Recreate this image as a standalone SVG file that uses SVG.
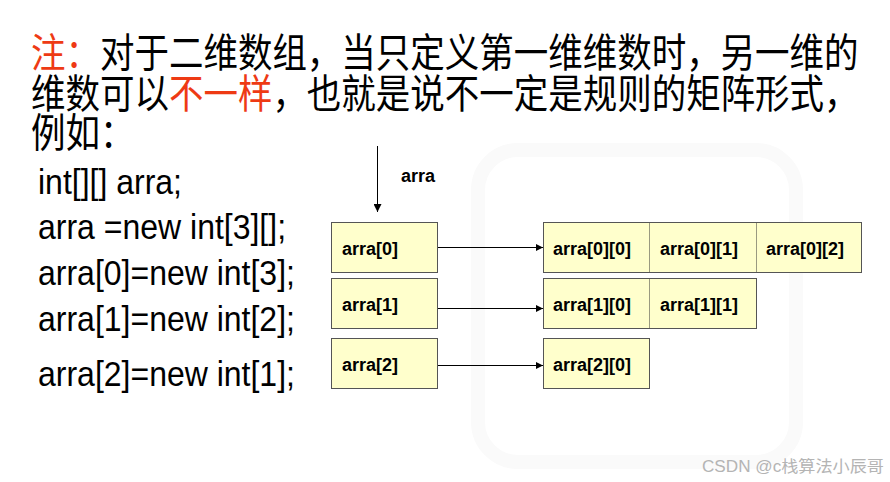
<svg xmlns="http://www.w3.org/2000/svg" width="890" height="482" viewBox="0 0 890 482">
  <defs>
    <marker id="ah" viewBox="0 0 10 10" refX="10" refY="5" markerWidth="7" markerHeight="7" markerUnits="userSpaceOnUse" orient="auto">
      <path d="M0,0 L10,5 L0,10 z" fill="#000"/>
    </marker>
    <marker id="ahv" viewBox="0 0 10 10" refX="10" refY="5" markerWidth="8" markerHeight="8" markerUnits="userSpaceOnUse" orient="auto">
      <path d="M0,0 L10,5 L0,10 z" fill="#000"/>
    </marker>
  </defs>
  <style>
    .title { font-family: "Noto Sans CJK SC", "Liberation Sans", sans-serif; font-size: 34.5px; fill: #000; }
    .red { fill: #EE3A14; }
    .code { font-family: "Liberation Sans", Arial, sans-serif; font-size: 32px; fill: #000; }
    .box { fill: #FFFFCC; stroke: #555; stroke-width: 1; }
    .div { stroke: #9a9a80; stroke-width: 1; }
    .lbl { font-family: "Liberation Sans", Arial, sans-serif; font-size: 18px; font-weight: bold; fill: #000; }
    .conn { stroke: #000; stroke-width: 1; fill: none; }
    .wm { font-family: "Liberation Sans", "Noto Sans CJK SC", sans-serif; font-size: 16px; fill: #b4b4b4; }
  </style>
  <rect width="890" height="482" fill="#fff"/>
  <!-- faint background watermark -->
  <g id="watermark-logo" fill="none" stroke="#fafafa" stroke-width="14">
    <rect x="478" y="150" width="318" height="312" rx="40"/>
  </g>

  <g id="title">
    <text class="title" transform="translate(31,67) scale(1,1.15)"><tspan class="red">注：</tspan>对于二维数组，当只定义第一维维数时，另一维的</text>
    <text class="title" transform="translate(31,108) scale(1,1.15)">维数可以<tspan class="red">不一样</tspan>，也就是说不一定是规则的矩阵形式，</text>
    <text class="title" transform="translate(31,147) scale(1,1.15)">例如：</text>
  </g>

  <g id="code">
    <text class="code" transform="translate(38,194) scale(1,1.1)">int[][] arra;</text>
    <text class="code" transform="translate(38,239) scale(1,1.1)">arra =new int[3][];</text>
    <text class="code" transform="translate(38,285) scale(1,1.1)">arra[0]=new int[3];</text>
    <text class="code" transform="translate(38,331) scale(1,1.1)">arra[1]=new int[2];</text>
    <text class="code" transform="translate(38,386) scale(1,1.1)">arra[2]=new int[1];</text>
  </g>

  <g id="arra-label">
    <text class="lbl" x="401" y="182">arra</text>
  </g>

  <g id="arra0">
    <rect class="box" x="331.5" y="222.5" width="106" height="50"/>
    <text class="lbl" x="342" y="255">arra[0]</text>
  </g>
  <g id="arra1">
    <rect class="box" x="331.5" y="278.5" width="106" height="50"/>
    <text class="lbl" x="342" y="311">arra[1]</text>
  </g>
  <g id="arra2">
    <rect class="box" x="331.5" y="338.5" width="106" height="50"/>
    <text class="lbl" x="342" y="371">arra[2]</text>
  </g>

  <g id="row0">
    <rect class="box" x="543.5" y="222.5" width="318" height="50"/>
    <line class="div" x1="649.5" y1="223" x2="649.5" y2="272"/>
    <line class="div" x1="756.5" y1="223" x2="756.5" y2="272"/>
    <text class="lbl" x="553" y="255">arra[0][0]</text>
    <text class="lbl" x="660" y="255">arra[0][1]</text>
    <text class="lbl" x="766" y="255">arra[0][2]</text>
  </g>
  <g id="row1">
    <rect class="box" x="543.5" y="278.5" width="213" height="50"/>
    <line class="div" x1="649.5" y1="279" x2="649.5" y2="328"/>
    <text class="lbl" x="553" y="311">arra[1][0]</text>
    <text class="lbl" x="660" y="311">arra[1][1]</text>
  </g>
  <g id="row2">
    <rect class="box" x="543.5" y="338.5" width="106" height="50"/>
    <text class="lbl" x="553" y="371">arra[2][0]</text>
  </g>

  <g id="connectors">
    <line class="conn" x1="377.5" y1="146" x2="377.5" y2="212" marker-end="url(#ahv)"/>
    <line class="conn" x1="438" y1="247.5" x2="543" y2="247.5" marker-end="url(#ah)"/>
    <line class="conn" x1="438" y1="308.5" x2="543" y2="308.5" marker-end="url(#ah)"/>
    <line class="conn" x1="438" y1="365.5" x2="543" y2="365.5" marker-end="url(#ah)"/>
  </g>

  <g id="credit">
    <text class="wm" x="702" y="472" textLength="182" lengthAdjust="spacingAndGlyphs">CSDN @c栈算法小辰哥</text>
  </g>
</svg>
